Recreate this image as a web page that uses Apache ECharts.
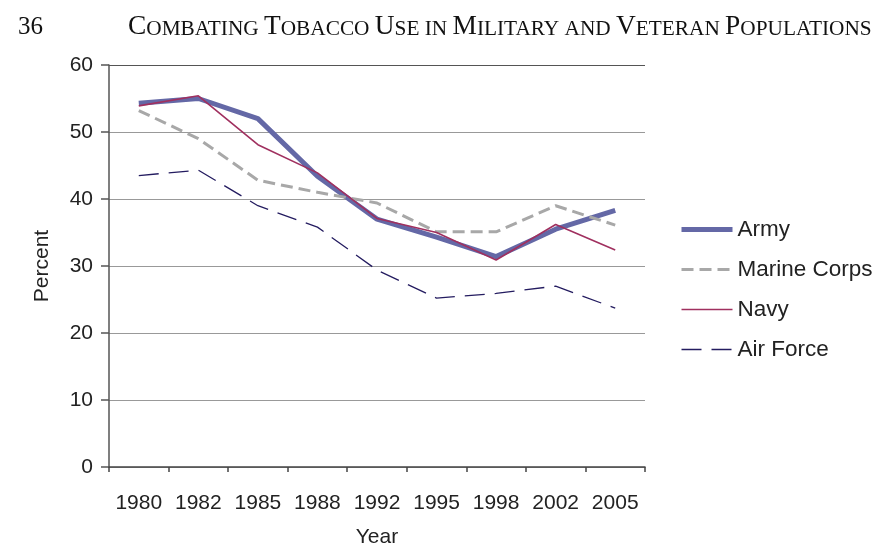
<!DOCTYPE html>
<html>
<head>
<meta charset="utf-8">
<script src="https://cdn.jsdelivr.net/npm/echarts@6/dist/echarts.min.js"></script>
<style>
html,body{margin:0;padding:0;background:#fff;}
#chart{width:879px;height:546px;}
</style>
</head>
<body>
<div id="chart"></div>
<script>
var years = ['1980','1982','1985','1988','1992','1995','1998','2002','2005'];
var army = [54.3, 55.0, 52.0, 43.4, 37.0, 34.3, 31.4, 35.5, 38.3];
var marineCorps = [53.2, 49.0, 42.8, 41.0, 39.4, 35.1, 35.1, 39.0, 36.1];
var navy = [53.9, 55.4, 48.1, 43.9, 37.1, 35.0, 30.9, 36.2, 32.4];
var airForce = [43.5, 44.3, 39.0, 35.8, 29.4, 25.2, 25.9, 27.0, 23.7];
var yTicks = [0, 10, 20, 30, 40, 50, 60];

var chart = echarts.init(document.getElementById('chart'), null, {renderer: 'canvas'});
var sans = 'Liberation Sans, Arial, sans-serif';
var serif = 'Liberation Serif, Times New Roman, serif';
var B = {fontFamily: serif, fontSize: 27.4, fontWeight: 'normal', color: '#111', verticalAlign: 'bottom', lineHeight: 28};
var S = {fontFamily: serif, fontSize: 21.3, fontWeight: 'normal', color: '#111', verticalAlign: 'bottom', lineHeight: 28};

chart.setOption({
  animation: false,
  backgroundColor: '#fff',
  title: [
    {text: '36', left: 13, top: 10, textStyle: {fontFamily: serif, fontSize: 25, fontWeight: 'normal', color: '#111'}},
    {text: '{b|C}{s|OMBATING }{b|T}{s|OBACCO }{b|U}{s|SE IN }{b|M}{s|ILITARY AND }{b|V}{s|ETERAN }{b|P}{s|OPULATIONS}',
     left: 123, top: 7,
     textStyle: {fontWeight: 'normal', rich: {b: B, s: S}}}
  ],
  grid: {left: 109, right: 234, top: 65, bottom: 79, containLabel: false, outerBoundsMode: 'none'},
  legend: {
    orient: 'vertical', left: 679, top: 218, padding: 0,
    itemWidth: 51, itemHeight: 14, itemGap: 17,
    itemStyle: {color: 'rgba(0,0,0,0)', opacity: 0, borderWidth: 0},
    lineStyle: {width: 'inherit'},
    textStyle: {fontFamily: sans, fontSize: 22.5, color: '#222'},
    data: ['Army', 'Marine Corps', 'Navy', 'Air Force']
  },
  xAxis: {
    type: 'category', data: years, boundaryGap: true,
    name: 'Year', nameLocation: 'middle', nameGap: 60,
    nameTextStyle: {fontFamily: sans, fontSize: 21, color: '#222'},
    axisLine: {lineStyle: {color: '#444', width: 1.5}},
    axisTick: {show: true, length: 5, lineStyle: {color: '#444', width: 1.5}},
    axisLabel: {fontFamily: sans, fontSize: 21, color: '#222', margin: 26, interval: 0},
    splitLine: {show: false}
  },
  yAxis: {
    type: 'value', min: yTicks[0], max: yTicks[yTicks.length - 1], interval: 10,
    name: 'Percent', nameLocation: 'middle', nameGap: 56, nameRotate: 90,
    nameTextStyle: {fontFamily: sans, fontSize: 21, color: '#222'},
    axisLine: {show: true, lineStyle: {color: '#555', width: 1.5}},
    axisTick: {show: true, length: 8, lineStyle: {color: '#555', width: 1.5}},
    axisLabel: {fontFamily: sans, fontSize: 21, color: '#222', margin: 16},
    splitLine: {show: true, lineStyle: {color: ['#999', '#999', '#999', '#999', '#999', '#999', '#555'], width: 1.2}}
  },
  series: [
    {name: 'Army', type: 'line', data: army, symbol: 'none', z: 2,
     lineStyle: {color: '#6468a6', width: 5}, itemStyle: {color: '#6468a6'}},
    {name: 'Marine Corps', type: 'line', data: marineCorps, symbol: 'none', z: 3,
     lineStyle: {color: '#a8a8a8', width: 3, type: [12, 6]}, itemStyle: {color: '#a8a8a8'}},
    {name: 'Navy', type: 'line', data: navy, symbol: 'none', z: 4,
     lineStyle: {color: '#a0305f', width: 1.6}, itemStyle: {color: '#a0305f'}},
    {name: 'Air Force', type: 'line', data: airForce, symbol: 'none', z: 5,
     lineStyle: {color: '#241c60', width: 1.3, type: [20, 10]}, itemStyle: {color: '#241c60'}}
  ]
});
</script>
</body>
</html>
